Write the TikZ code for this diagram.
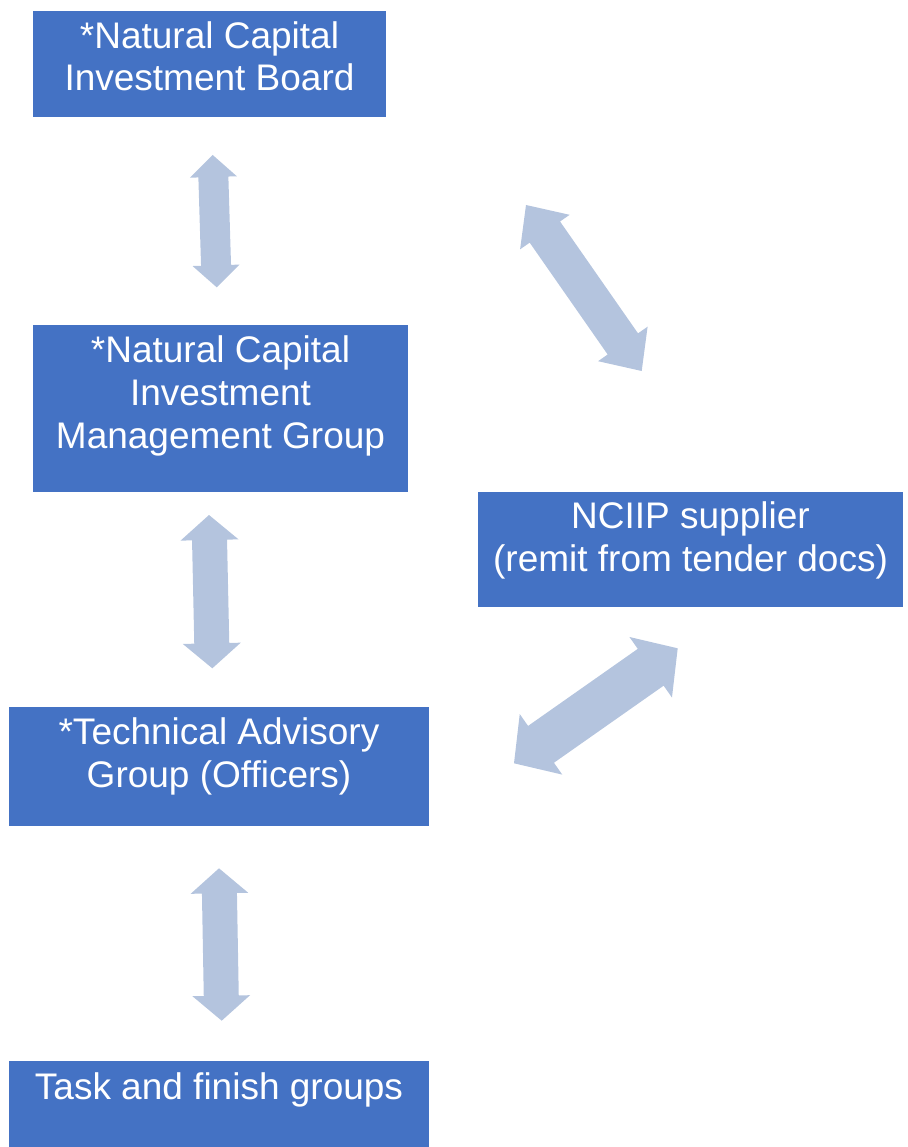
\documentclass[tikz,border=0pt]{standalone}
\usepackage{fontspec}
\setmainfont{Liberation Sans}
\usetikzlibrary{calc}
\definecolor{boxblue}{HTML}{4472C4}
\definecolor{arrowgrey}{RGB}{180,196,222}
% double-headed block arrow as one filled outline:
% #1,#2 tips, #3 shaft half-width, #4 head half-width, #5 head length
\newcommand\dblblockarrow[5]{%
  \fill[link]
    (#1)
    -- ($(#1)!#5!(#2)!#4!90:(#2)$)
    -- ($(#1)!#5!(#2)!#3!90:(#2)$)
    -- ($(#2)!#5!(#1)!#3!-90:(#1)$)
    -- ($(#2)!#5!(#1)!#4!-90:(#1)$)
    -- (#2)
    -- ($(#2)!#5!(#1)!#4!90:(#1)$)
    -- ($(#2)!#5!(#1)!#3!90:(#1)$)
    -- ($(#1)!#5!(#2)!#3!-90:(#2)$)
    -- ($(#1)!#5!(#2)!#4!-90:(#2)$)
    -- cycle;}
\begin{document}
\begin{tikzpicture}[x=1pt,y=-1pt,
  panel/.style={fill=boxblue, draw=none, inner sep=0pt, anchor=north west},
  caption/.style={text=white, font=\fontsize{37}{42.8}\selectfont, align=center, inner sep=0pt, anchor=base},
  link/.style={fill=arrowgrey, draw=none}
]
\path[use as bounding box] (0,0) rectangle (907,1147);

% boxes
\node[panel, minimum width=353pt, minimum height=106pt] (board) at (33,11) {};
\node[panel, minimum width=375pt, minimum height=167pt] (mgmt) at (33,325) {};
\node[panel, minimum width=420pt, minimum height=119pt] (tag) at (9,707) {};
\node[panel, minimum width=420pt, minimum height=86pt] (tasks) at (9,1061) {};
\node[panel, minimum width=425pt, minimum height=115pt] (supplier) at (478,492) {};

% captions (base = last line's baseline)
\node[caption] (boardtxt) at (209.5,91) {*Natural Capital\\Investment Board};
\node[caption] (mgmttxt) at (220.5,448.5) {*Natural Capital\\Investment\\Management Group};
\node[caption] (tagtxt) at (219,787.5) {*Technical Advisory\\Group (Officers)};
\node[caption] (taskstxt) at (219,1099.5) {Task and finish groups};
\node[caption] (suppliertxt) at (690.5,571) {NCIIP supplier\\(remit from tender docs)};

% double-headed block arrows
\coordinate (a1s) at (212.7,155);   \coordinate (a1e) at (216.7,287.3);
\coordinate (a2s) at (209,515);     \coordinate (a2e) at (212.3,668.3);
\coordinate (a3s) at (219,868.3);   \coordinate (a3e) at (221.7,1020.7);
\coordinate (a4s) at (526,205);     \coordinate (a4e) at (641.7,371);
\coordinate (a5s) at (677.7,648.3); \coordinate (a5e) at (514,763.3);

\dblblockarrow{a1s}{a1e}{15pt}{23.5pt}{22pt}
\dblblockarrow{a2s}{a2e}{17.5pt}{29pt}{25pt}
\dblblockarrow{a3s}{a3e}{17.5pt}{28.8pt}{25pt}
\dblblockarrow{a4s}{a4e}{18.5pt}{30.2pt}{33pt}
\dblblockarrow{a5s}{a5e}{22.5pt}{37pt}{33pt}
\end{tikzpicture}
\end{document}
